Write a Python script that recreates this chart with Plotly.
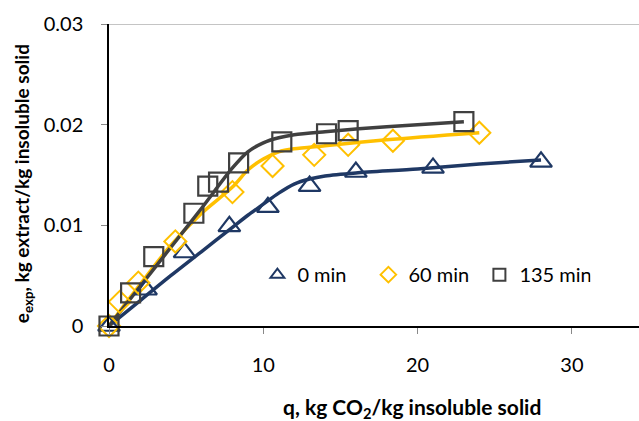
import plotly.graph_objects as go

q_0 = [0, 2.4, 4.9, 7.8, 10.3, 13.0, 16.0, 21.0, 28.0]
e_0 = [0, 0.0036, 0.0073, 0.0099, 0.0118, 0.0139, 0.0153, 0.0157, 0.0163]

q_60 = [0, 0.7, 1.9, 4.3, 8.0, 10.6, 13.3, 15.5, 18.4, 24.0]
e_60 = [0, 0.0024, 0.0043, 0.0084, 0.0133, 0.0159, 0.0170, 0.0180, 0.0184, 0.0192]

q_135 = [0, 1.4, 2.9, 5.5, 6.4, 7.1, 8.4, 11.2, 14.1, 15.5, 23.0]
e_135 = [0, 0.0033, 0.0069, 0.0112, 0.0139, 0.0143, 0.0162, 0.0183, 0.0191, 0.0194, 0.0203]

# Model curves
qm_0 = [0, 2, 4, 6, 8, 9, 10, 11, 12, 13, 14, 16, 20, 24, 28]
em_0 = [0, 0.0025, 0.0050, 0.0074, 0.0098, 0.0110, 0.0121, 0.0132, 0.0141, 0.0146, 0.0149, 0.0152, 0.0156, 0.0161, 0.0165]

qm_60 = [0, 1, 2, 4, 6, 8, 9, 10, 11, 12, 14, 18, 24]
em_60 = [0, 0.0021, 0.0041, 0.0080, 0.0112, 0.0138, 0.0155, 0.0166, 0.0173, 0.0176, 0.0179, 0.0185, 0.0192]

qm_135 = [0, 2, 4, 6, 8, 9, 10, 11, 12, 14, 18, 23]
em_135 = [0, 0.0039, 0.0078, 0.0117, 0.0157, 0.0173, 0.0182, 0.0187, 0.0190, 0.0193, 0.0198, 0.0203]

labels = ["0 min", "60 min", "135 min"]
x_ticks = [0, 10, 20, 30]
y_ticks = [0, 0.01, 0.02, 0.03]
y_ticktext = ["0", "0.01", "0.02", "0.03"]

NAVY = "#1F3864"
GOLD = "#FFC000"
GRAY = "#404040"
FONT = "Lato"

fig = go.Figure()

for qm, em, c in [(qm_0, em_0, NAVY), (qm_60, em_60, GOLD), (qm_135, em_135, GRAY)]:
    fig.add_trace(go.Scatter(x=qm, y=em, mode="lines", showlegend=False,
                             line=dict(color=c, width=3.5, shape="spline", smoothing=0.8),
                             hoverinfo="skip", cliponaxis=False))

fig.add_trace(go.Scatter(x=q_0, y=e_0, mode="markers", name=labels[0], cliponaxis=False,
                         marker=dict(symbol="triangle-up-open", size=19, color=NAVY,
                                     line=dict(width=2.2, color=NAVY))))
fig.add_trace(go.Scatter(x=q_60, y=e_60, mode="markers", name=labels[1], cliponaxis=False,
                         marker=dict(symbol="diamond-open", size=17, color=GOLD,
                                     line=dict(width=2, color=GOLD))))
fig.add_trace(go.Scatter(x=q_135, y=e_135, mode="markers", name=labels[2], cliponaxis=False,
                         marker=dict(symbol="square-open", size=19, color=GRAY,
                                     line=dict(width=2.2, color=GRAY))))

fig.add_shape(type="line", xref="paper", yref="y", x0=0, x1=1, y0=0.03, y1=0.03,
              line=dict(color="#898989", width=1.2), layer="below")

fig.update_layout(
    width=639, height=421,
    margin=dict(l=109, r=0, t=24, b=95),
    paper_bgcolor="white", plot_bgcolor="white",
    font=dict(family=FONT, size=19, color="black"),
    showlegend=True,
    legend=dict(orientation="h", x=0.28, y=0.17, xanchor="left", yanchor="middle",
                font=dict(size=20, family=FONT), itemsizing="constant",
                entrywidth=66, entrywidthmode="pixels", bgcolor="rgba(0,0,0,0)",
                tracegroupgap=0),
    xaxis=dict(range=[0, 34.35], tickvals=x_ticks, ticktext=[str(v) for v in x_ticks],
               showgrid=False, zeroline=False, showline=True, linecolor="black", linewidth=1.5,
               ticks="outside", ticklen=6, tickcolor="#898989", tickwidth=1,
               ticklabelstandoff=14, tickfont=dict(size=20, family=FONT)),
    yaxis=dict(range=[0, 0.03], tickvals=y_ticks, ticktext=y_ticktext,
               showgrid=False, zeroline=False, showline=True, linecolor="black", linewidth=1.5,
               ticks="outside", ticklen=6, tickcolor="#898989", tickwidth=1,
               ticklabelstandoff=14, tickfont=dict(size=20, family=FONT)),
    annotations=[
        dict(text="<b>q, kg CO<sub>2</sub>/kg insoluble solid</b>", xref="paper", yref="paper",
             x=0.572, y=-0.27, xanchor="center", yanchor="middle", showarrow=False,
             font=dict(size=21, family=FONT)),
        dict(text="<b>e<sub>exp</sub>, kg extract/kg insoluble solid</b>", xref="paper", yref="paper",
             x=-0.162, y=0.47, xanchor="center", yanchor="middle", showarrow=False, textangle=-90,
             font=dict(size=19, family=FONT)),
    ],
)

fig.write_html("out.html")
